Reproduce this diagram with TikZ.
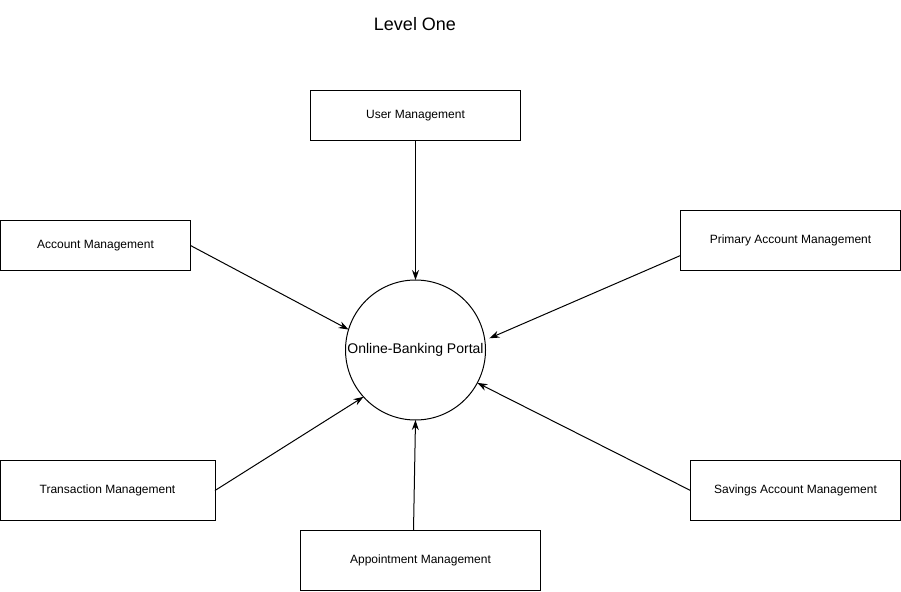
\documentclass[tikz,border=0pt]{standalone}
\usepackage{fontspec}
\setmainfont{Liberation Sans}
\usetikzlibrary{arrows.meta}

\begin{document}
\begin{tikzpicture}[x=1pt, y=-1pt,
        box/.style={draw, line width=1pt, inner sep=0pt, outer sep=0pt, font=\fontsize{12}{14}\selectfont},
        flow/.style={-{Stealth[length=10pt,width=7pt]}, line width=1pt}]
        \useasboundingbox (0,0) rectangle (901,591);

        \node[font=\fontsize{18}{21}\selectfont] (title) at (415,24) {Level One};

        \node[draw, circle, line width=1pt, minimum size=140pt, inner sep=0pt, outer sep=0pt,
              font=\fontsize{14}{16}\selectfont] (portal) at (415.5,350) {Online-Banking Portal};

        \node[box, minimum width=210pt, minimum height=50pt] (user) at (415.5,115.5) {User Management};
        \node[box, minimum width=190pt, minimum height=50pt] (acct) at (95.5,245.5) {Account Management};
        \node[box, minimum width=220pt, minimum height=60pt] (prim) at (790.5,240.5) {Primary Account Management};
        \node[box, minimum width=215pt, minimum height=60pt] (trans) at (107.5,490.5) {Transaction Management};
        \node[box, minimum width=210pt, minimum height=60pt] (sav) at (795.5,490.5) {Savings Account Management};
        \node[box, minimum width=240pt, minimum height=60pt] (appt) at (420.5,560.5) {Appointment Management};

        % arrows into the portal
        \draw[flow] (user.south) -- (portal.north);
        \draw[flow] (acct.east) -- (portal.163);
        \draw[flow, shorten >=5pt] ([yshift=-15pt]prim.west) -- (portal.8);
        \draw[flow] (trans.east) -- (portal.222);
        \draw[flow] (sav.west) -- (portal.-28);
        \draw[flow] ([xshift=-7pt]appt.north) -- (portal.south);

    \end{tikzpicture}
\end{document}
